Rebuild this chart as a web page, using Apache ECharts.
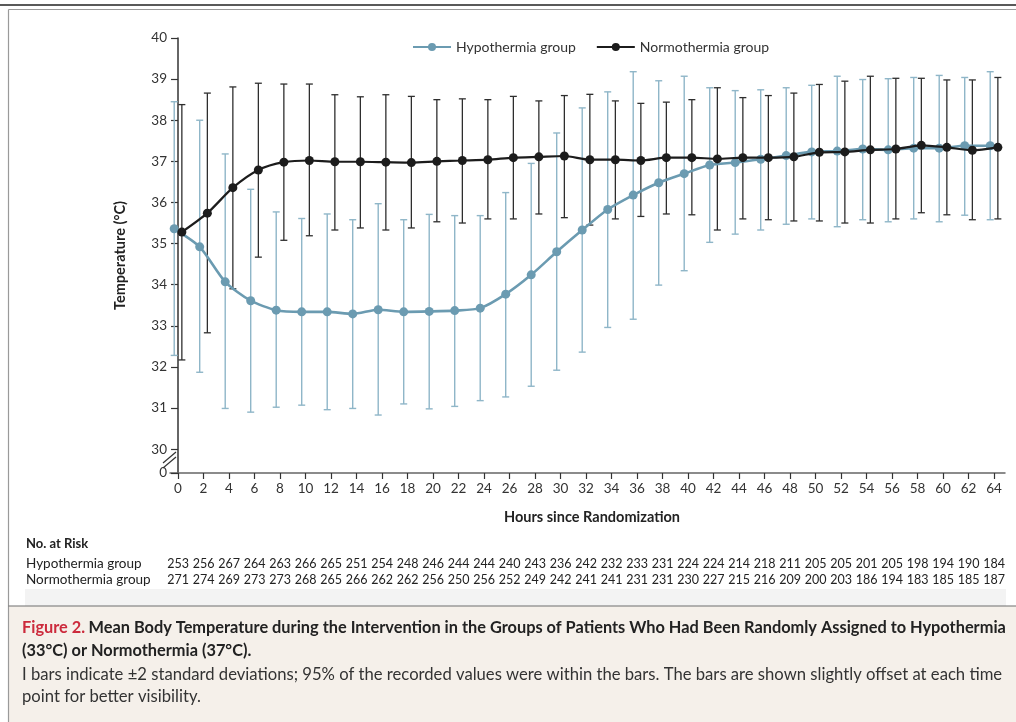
<!DOCTYPE html>
<html>
<head>
<meta charset="utf-8">
<script src="https://cdn.jsdelivr.net/npm/echarts@6/dist/echarts.min.js"></script>
<style>
html,body{margin:0;padding:0;background:#fff;}
#chart{width:1016px;height:722px;}
</style>
</head>
<body>
<div id="chart"></div>
<script>
const hours = [0,2,4,6,8,10,12,14,16,18,20,22,24,26,28,30,32,34,36,38,40,42,44,46,48,50,52,54,56,58,60,62,64];
const xTickLabels = hours.map(String);
const yTickValues = [30,31,32,33,34,35,36,37,38,39,40];

const hypoMean = [35.36,34.92,34.07,33.61,33.38,33.34,33.34,33.29,33.39,33.34,33.35,33.37,33.43,33.77,34.24,34.80,35.33,35.83,36.18,36.48,36.70,36.91,36.97,37.05,37.14,37.23,37.25,37.30,37.28,37.32,37.32,37.38,37.38];
const hypoHigh = [38.45,38.00,37.18,36.32,35.77,35.61,35.72,35.58,35.97,35.58,35.71,35.68,35.68,36.24,36.95,37.69,38.30,38.69,39.18,38.96,39.07,38.79,38.72,38.74,38.79,38.85,39.07,38.99,39.01,39.04,39.09,39.04,39.18];
const hypoLow  = [32.28,31.87,30.99,30.90,31.02,31.07,30.96,30.99,30.83,31.10,30.98,31.04,31.18,31.27,31.53,31.92,32.36,32.96,33.16,33.99,34.34,35.03,35.23,35.33,35.47,35.60,35.41,35.58,35.53,35.60,35.53,35.69,35.58];

const normoMean = [35.28,35.74,36.36,36.79,36.98,37.02,36.99,36.99,36.98,36.97,37.00,37.02,37.04,37.09,37.11,37.13,37.04,37.04,37.02,37.09,37.09,37.06,37.09,37.09,37.11,37.22,37.23,37.28,37.30,37.39,37.34,37.27,37.34];
const normoHigh = [38.38,38.66,38.81,38.90,38.88,38.88,38.62,38.57,38.62,38.58,38.50,38.52,38.50,38.58,38.47,38.60,38.63,38.47,38.41,38.44,38.50,38.79,38.55,38.60,38.66,38.87,38.95,39.07,39.02,39.02,38.98,38.98,39.04];
const normoLow  = [32.17,32.83,33.90,34.67,35.08,35.19,35.33,35.38,35.33,35.38,35.53,35.50,35.60,35.60,35.72,35.63,35.45,35.60,35.66,35.72,35.70,35.33,35.60,35.58,35.55,35.55,35.50,35.50,35.60,35.75,35.70,35.58,35.60];

const riskHypo  = [253,256,267,264,263,266,265,251,254,248,246,244,244,240,243,236,242,232,233,231,224,224,214,218,211,205,205,201,205,198,194,190,184];
const riskNormo = [271,274,269,273,273,268,265,266,262,262,256,250,256,252,249,242,241,241,231,231,230,227,215,216,209,200,203,186,194,183,185,185,187];

const seriesNames = ['Hypothermia group','Normothermia group'];
const riskTitle = 'No. at Risk';
const captionTitle = 'Figure 2.';
const captionLine1 = 'Mean Body Temperature during the Intervention in the Groups of Patients Who Had Been Randomly Assigned to Hypothermia';
const captionLine2 = '(33°C) or Normothermia (37°C).';
const captionBody1 = 'I bars indicate ±2 standard deviations; 95% of the recorded values were within the bars. The bars are shown slightly offset at each time';
const captionBody2 = 'point for better visibility.';

const FONT = 'Lato, "Open Sans", sans-serif';
const HYPO = '#6b9bb1';
const HYPO_BAR = '#8fb6c8';
const NORMO = '#1c1c1c';
const NORMO_BAR = '#2e2e2e';
const OFFSET = 0.3; // display offset in hours
const Y_MIN = 29.42;

// font size that makes a text fill a given width
const mctx = document.createElement('canvas').getContext('2d');
function fitSize(text, weight, width) {
  mctx.font = weight + ' 20px ' + FONT;
  return 20 * width / mctx.measureText(text).width;
}

const chart = echarts.init(document.getElementById('chart'));

function errRender(color, width) {
  return function (params, api) {
    const x = api.value(0);
    const lo = api.coord([x, api.value(1)]);
    const hi = api.coord([x, api.value(2)]);
    const cap = 3.5;
    const st = {stroke: color, lineWidth: width};
    return {
      type: 'group',
      children: [
        {type: 'line', shape: {x1: lo[0], y1: lo[1], x2: hi[0], y2: hi[1]}, style: st},
        {type: 'line', shape: {x1: lo[0]-cap, y1: lo[1], x2: lo[0]+cap, y2: lo[1]}, style: st},
        {type: 'line', shape: {x1: hi[0]-cap, y1: hi[1], x2: hi[0]+cap, y2: hi[1]}, style: st}
      ]
    };
  };
}

const option = {
  animation: false,
  backgroundColor: '#fff',
  textStyle: {fontFamily: FONT},
  grid: {left: 170, right: 11, top: 38, bottom: 249, containLabel: false},
  legend: {
    left: 407, top: 35,
    itemWidth: 38, itemHeight: 10, itemGap: 20,
    textStyle: {fontFamily: FONT, fontSize: 14, color: '#333'},
    data: seriesNames
  },
  xAxis: {
    type: 'value', min: -0.63, max: 64.86,
    axisLine: {lineStyle: {color: '#666', width: 1.5}},
    axisTick: {show: true, inside: false, length: 6, lineStyle: {color: '#333', width: 1.2}, customValues: hours},
    axisLabel: {customValues: hours, fontFamily: FONT, fontSize: 13.5, color: '#333', margin: 9,
      formatter: function (v) { const i = hours.indexOf(v); return i >= 0 ? xTickLabels[i] : ''; }},
    splitLine: {show: false},
    name: 'Hours since Randomization', nameLocation: 'middle', nameGap: 37,
    nameTextStyle: {fontFamily: FONT, fontSize: 14.5, fontWeight: 'bold', color: '#222', padding: [0,0,0,9]}
  },
  yAxis: {
    type: 'value', min: Y_MIN, max: 40,
    axisLine: {show: true, lineStyle: {color: '#333', width: 1.5}},
    axisTick: {show: true, length: 7, lineStyle: {color: '#333', width: 1.2}, customValues: [Y_MIN].concat(yTickValues)},
    axisLabel: {customValues: [Y_MIN].concat(yTickValues), fontFamily: FONT, fontSize: 13.5, color: '#333', margin: 3,
      formatter: function (v) { return v < 29.9 ? '0' : String(Math.round(v)); }},
    splitLine: {show: false},
    name: 'Temperature (°C)', nameLocation: 'middle', nameGap: 42, nameRotate: 90,
    nameTextStyle: {fontFamily: FONT, fontSize: 14.5, fontWeight: 'bold', color: '#222'}
  },
  series: [
    {
      type: 'custom', name: 'hypoBars', z: 2, silent: true,
      renderItem: errRender(HYPO_BAR, 1.4),
      data: hours.map((h, i) => [h - OFFSET, hypoLow[i], hypoHigh[i]]),
      encode: {x: 0, y: [1, 2]}
    },
    {
      type: 'custom', name: 'normoBars', z: 2, silent: true,
      renderItem: errRender(NORMO_BAR, 1.3),
      data: hours.map((h, i) => [h + OFFSET, normoLow[i], normoHigh[i]]),
      encode: {x: 0, y: [1, 2]}
    },
    {
      type: 'line', name: seriesNames[0], z: 3,
      data: hours.map((h, i) => [h - OFFSET, hypoMean[i]]),
      smooth: 0.25, symbol: 'circle', symbolSize: 9,
      lineStyle: {color: HYPO, width: 2.6},
      itemStyle: {color: HYPO}
    },
    {
      type: 'line', name: seriesNames[1], z: 4,
      data: hours.map((h, i) => [h + OFFSET, normoMean[i]]),
      smooth: 0.25, symbol: 'circle', symbolSize: 9,
      lineStyle: {color: NORMO, width: 2.2},
      itemStyle: {color: NORMO}
    }
  ]
};

chart.setOption(option);

// decorations, risk table and caption
const g = [];
g.push({type: 'line', shape: {x1: 0, y1: 5, x2: 1016, y2: 5}, style: {stroke: '#222', lineWidth: 1.6}, z: 10});
g.push({type: 'line', shape: {x1: 8.5, y1: 9.5, x2: 1016, y2: 9.5}, style: {stroke: '#9a9a9a', lineWidth: 1.2}, z: 10});
g.push({type: 'line', shape: {x1: 8.5, y1: 9.5, x2: 8.5, y2: 722}, style: {stroke: '#9a9a9a', lineWidth: 1.2}, z: 10});
g.push({type: 'rect', shape: {x: 25, y: 589, width: 981, height: 17}, style: {fill: '#f3f3f3'}, z: 1});
g.push({type: 'rect', shape: {x: 9, y: 606, width: 1007, height: 116}, style: {fill: '#f5f0ea'}, z: 1});
g.push({type: 'line', shape: {x1: 8.5, y1: 606, x2: 1016, y2: 606}, style: {stroke: '#6e6e6e', lineWidth: 1.2}, z: 10});

// axis break
const p30 = chart.convertToPixel({gridIndex: 0}, [-0.63, 30]);
const pMin = chart.convertToPixel({gridIndex: 0}, [-0.63, Y_MIN]);
const ax = p30[0];
const mid = (p30[1] + pMin[1]) / 2 - 1;
g.push({type: 'rect', shape: {x: ax - 3, y: mid - 3, width: 6, height: 6}, style: {fill: '#fff'}, z: 20});
g.push({type: 'line', shape: {x1: ax - 7, y1: mid + 3, x2: ax + 6, y2: mid - 8}, style: {stroke: '#333', lineWidth: 1.2}, z: 21});
g.push({type: 'line', shape: {x1: ax - 7, y1: mid + 8, x2: ax + 6, y2: mid - 3}, style: {stroke: '#333', lineWidth: 1.2}, z: 21});

// risk table
g.push({type: 'text', x: 26, y: 544, style: {text: riskTitle, font: 'bold 13px ' + FONT, fill: '#222', verticalAlign: 'middle'}, z: 10});
g.push({type: 'text', x: 26, y: 564, style: {text: seriesNames[0], font: '13.5px ' + FONT, fill: '#222', verticalAlign: 'middle'}, z: 10});
g.push({type: 'text', x: 26, y: 580, style: {text: seriesNames[1], font: '13.5px ' + FONT, fill: '#222', verticalAlign: 'middle'}, z: 10});
hours.forEach(function (h, i) {
  const px = chart.convertToPixel({gridIndex: 0}, [h, 35])[0];
  g.push({type: 'text', x: px, y: 564, style: {text: String(riskHypo[i]), font: '12.5px ' + FONT, fill: '#222', align: 'center', verticalAlign: 'middle'}, z: 10});
  g.push({type: 'text', x: px, y: 580, style: {text: String(riskNormo[i]), font: '12.5px ' + FONT, fill: '#222', align: 'center', verticalAlign: 'middle'}, z: 10});
});

// caption
const capBold = fitSize(captionTitle + ' ' + captionLine1, 'bold', 985);
const capBody = fitSize(captionBody1, 'normal', 981);
g.push({type: 'text', x: 22, y: 628, z: 10, style: {
  text: '{r|' + captionTitle + '} {b|' + captionLine1 + '}',
  verticalAlign: 'middle',
  rich: {
    r: {fontFamily: FONT, fontSize: capBold, fontWeight: 'bold', fill: '#cc2a3c', color: '#cc2a3c'},
    b: {fontFamily: FONT, fontSize: capBold, fontWeight: 'bold', fill: '#222', color: '#222'}
  }
}});
g.push({type: 'text', x: 22, y: 651, z: 10, style: {text: captionLine2, font: 'bold ' + capBold + 'px ' + FONT, fill: '#222', verticalAlign: 'middle'}});
g.push({type: 'text', x: 22, y: 675, z: 10, style: {text: captionBody1, font: capBody + 'px ' + FONT, fill: '#333', verticalAlign: 'middle'}});
g.push({type: 'text', x: 22, y: 697, z: 10, style: {text: captionBody2, font: capBody + 'px ' + FONT, fill: '#333', verticalAlign: 'middle'}});

chart.setOption({graphic: g});
</script>
</body>
</html>
